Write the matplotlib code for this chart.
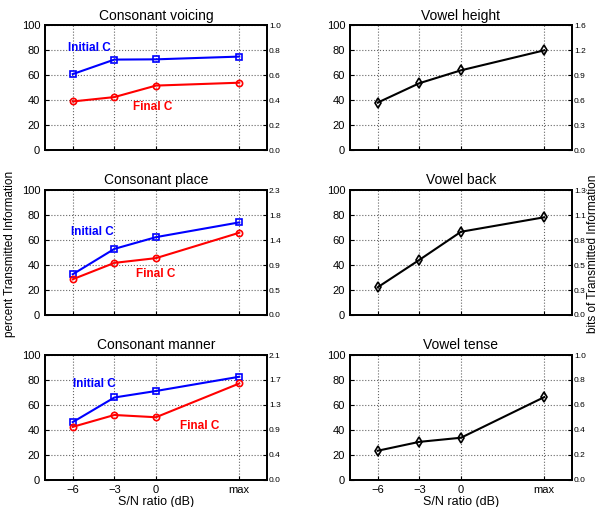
import matplotlib.pyplot as plt

plt.rcParams['font.family'] = ['Liberation Sans', 'DejaVu Sans']

snr = [-6, -3, 0, 6]
snr_labels = ['\u22126', '\u22123', '0', 'max']

voicing_init = [60.8, 72.4, 72.6, 74.8]
voicing_final = [38.9, 42.4, 51.6, 53.9]
place_init = [32.6, 52.9, 62.3, 74.1]
place_final = [28.6, 41.7, 45.5, 65.8]
manner_init = [46.3, 66.0, 71.2, 82.6]
manner_final = [42.5, 52.0, 50.2, 77.2]

vowel_height = [38.0, 53.5, 63.8, 79.8]
vowel_back = [22.2, 44.1, 66.6, 78.2]
vowel_tense = [23.4, 30.5, 33.8, 66.3]

# right-axis labels (bits), placed at the 0..100 percent grid
bits_voicing = ['0.0', '0.2', '0.4', '0.6', '0.8', '1.0']
bits_place = ['0.0', '0.5', '0.9', '1.4', '1.8', '2.3']
bits_manner = ['0.0', '0.4', '0.9', '1.3', '1.7', '2.1']
bits_height = ['0.0', '0.3', '0.6', '0.9', '1.2', '1.6']
bits_back = ['0.0', '0.3', '0.5', '0.8', '1.1', '1.3']
bits_tense = ['0.0', '0.2', '0.4', '0.6', '0.8', '1.0']

pct_ticks = [0, 20, 40, 60, 80, 100]

fig = plt.figure(figsize=(6.0, 5.07), dpi=100)

W, H = 0.37, 0.2465
cols = [0.075, 0.5833]
rows = [0.704, 0.3787, 0.0533]


def setup(ax, title, bits, bottom):
    ax.set_xlim(-8, 8)
    ax.set_ylim(0, 100)
    ax.set_xticks(snr)
    ax.set_yticks(pct_ticks)
    if bottom:
        ax.set_xticklabels(snr_labels)
        ax.set_xlabel('S/N ratio (dB)', fontsize=9, labelpad=1)
    else:
        ax.set_xticklabels([])
    ax.grid(True, linestyle=':', color='#666666', linewidth=0.8)
    ax.tick_params(direction='in', length=3, labelsize=8, width=0.8)
    for s in ax.spines.values():
        s.set_linewidth(1.3)
    ax.set_title(title, fontsize=10, pad=4)
    ax2 = ax.twinx()
    ax2.set_ylim(0, 100)
    ax2.set_yticks(pct_ticks)
    ax2.set_yticklabels(bits)
    ax2.tick_params(direction='in', length=3, labelsize=6, width=0.8, pad=1.5)
    for s in ax2.spines.values():
        s.set_linewidth(1.3)
    return ax2


cons = [
    ('Consonant voicing', voicing_init, voicing_final, bits_voicing,
     (-6.35, 81.5), (-1.65, 34.4)),
    ('Consonant place', place_init, place_final, bits_place,
     (-6.1, 66.4), (-1.45, 32.8)),
    ('Consonant manner', manner_init, manner_final, bits_manner,
     (-6.0, 76.8), (1.7, 43.4)),
]
for i, (title, ini, fin, bits, p_ini, p_fin) in enumerate(cons):
    ax = fig.add_axes([cols[0], rows[i], W, H])
    ax.plot(snr, ini, '-s', color='blue', lw=1.5, ms=4, mfc='none', mew=1.2, zorder=3)
    ax.plot(snr, fin, '-o', color='red', lw=1.5, ms=4.5, mfc='none', mew=1.2, zorder=3)
    ax.text(p_ini[0], p_ini[1], 'Initial C', color='blue', fontsize=8.5,
            fontweight='bold', va='center')
    ax.text(p_fin[0], p_fin[1], 'Final C', color='red', fontsize=8.5,
            fontweight='bold', va='center')
    setup(ax, title, bits, i == 2)

vow = [
    ('Vowel height', vowel_height, bits_height),
    ('Vowel back', vowel_back, bits_back),
    ('Vowel tense', vowel_tense, bits_tense),
]
for i, (title, vals, bits) in enumerate(vow):
    ax = fig.add_axes([cols[1], rows[i], W, H])
    ax.plot(snr, vals, '-d', color='black', lw=1.5, ms=5, mfc='none', mew=1.2, zorder=3)
    setup(ax, title, bits, i == 2)

fig.text(0.016, 0.5, 'percent Transmitted Information', rotation=90,
         ha='center', va='center', fontsize=8.5)
fig.text(0.988, 0.5, 'bits of Transmitted Information', rotation=90,
         ha='center', va='center', fontsize=8.5)

fig.savefig('out.png', dpi=100)
